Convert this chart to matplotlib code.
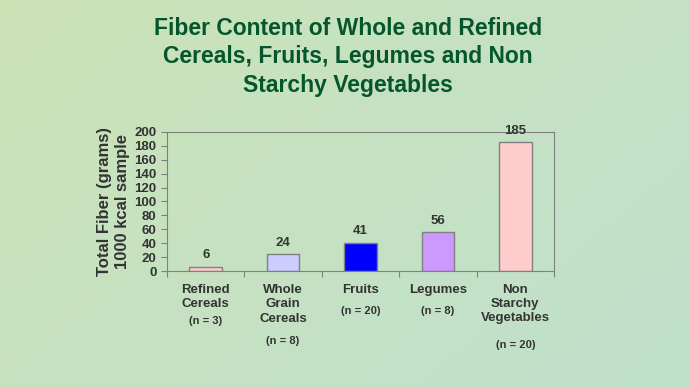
import numpy as np
import matplotlib
matplotlib.use("Agg")
import matplotlib.pyplot as plt

plt.rcParams['font.family'] = ['Liberation Sans', 'DejaVu Sans']
plt.rcParams['font.weight'] = 'bold'
plt.rcParams['axes.labelweight'] = 'bold'

# data
categories = ['Refined\nCereals', 'Whole\nGrain\nCereals', 'Fruits', 'Legumes', 'Non\nStarchy\nVegetables']
counts = ['(n = 3)', '(n = 8)', '(n = 20)', '(n = 8)', '(n = 20)']
fiber = [6, 24, 41, 56, 185]
bar_colors = ['#ffcccc', '#ccccff', '#0000ff', '#cc99ff', '#ffcccc']
count_y = [321, 341, 311, 311, 345]  # pixel rows of the n labels (from top)

W, H = 689, 388
fig = plt.figure(figsize=(W / 100, H / 100), dpi=100)

# soft green background
bg = fig.add_axes([0, 0, 1, 1], zorder=-10)
gx = np.linspace(0, 1, 200)
gy = np.linspace(0, 1, 120)
GX, GY = np.meshgrid(gx, gy)
c1 = np.array([0.80, 0.89, 0.72])
c2 = np.array([0.75, 0.88, 0.80])
t = (0.6 * GX + 0.4 * GY)[..., None]
bg.imshow(c1 * (1 - t) + c2 * t, aspect='auto', extent=[0, 1, 0, 1])
bg.axis('off')

ax = fig.add_axes([167 / W, 1 - 271 / H, (554 - 167) / W, (271 - 132) / H])
ax.set_facecolor('none')
x = np.arange(len(fiber))
ax.bar(x, fiber, width=0.42, color=bar_colors, edgecolor='#808080', linewidth=1)

for xi, v in zip(x, fiber):
    ax.annotate(str(v), (xi, v), xytext=(0, 4), textcoords='offset points',
                ha='center', va='bottom', fontsize=9.5, color='#333333')

ax.set_xlim(-0.5, len(fiber) - 0.5)
ax.set_ylim(0, 200)
ax.set_yticks(range(0, 201, 20))
ax.set_xticks(np.arange(len(fiber) + 1) - 0.5)
ax.set_xticklabels([])
ax.tick_params(axis='y', labelsize=9.5, colors='#808080', labelcolor='#333333', length=4)
ax.tick_params(axis='x', colors='#808080', length=4)
for s in ax.spines.values():
    s.set_color('#808080')

for xi, name, n, ny in zip(x, categories, counts, count_y):
    ax.annotate(name, (xi, H - 284), xycoords=('data', 'figure pixels'),
                ha='center', va='top', fontsize=9.5, color='#333333', linespacing=1.25)
    ax.annotate(n, (xi, H - ny), xycoords=('data', 'figure pixels'),
                ha='center', va='center', fontsize=8, color='#333333')

ax.set_ylabel('Total Fiber (grams)\n1000 kcal sample', fontsize=12, color='#333333',
              linespacing=1.25, labelpad=3)

fig.text(0.505, 1 - 57 / H, 'Fiber Content of Whole and Refined\nCereals, Fruits, Legumes and Non\nStarchy Vegetables',
         ha='center', va='center', fontsize=16.5, color='#05562c', linespacing=1.3)

fig.savefig('out.png', dpi=100)
